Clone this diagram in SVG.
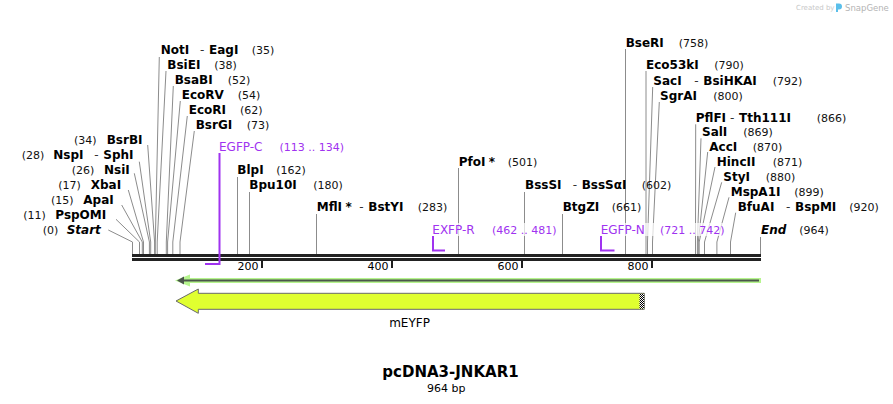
<svg xmlns="http://www.w3.org/2000/svg" width="893" height="404" viewBox="0 0 893 404">
<style>
text{font-family:"DejaVu Sans",Verdana,sans-serif;fill:#000}
.n{font-weight:bold;font-size:12px}
.i{font-weight:bold;font-style:italic;font-size:12px}
.h{font-size:12px;fill:#333}
.c{font-size:11px;fill:#111}
.p{font-size:12px;fill:#a033f0}
.pc{font-size:11px;fill:#a033f0}
.ln{stroke:#8c8c8c;stroke-width:1;fill:none}
.pr{stroke:#a033f0;stroke-width:2;fill:none}
.tk{fill:#1e1e1e}
.t{font-size:11px;fill:#000}
</style>
<defs>
<pattern id="dots" width="2" height="2" patternUnits="userSpaceOnUse">
<rect width="2" height="2" fill="#fff"/>
<rect width="1" height="1" fill="#000"/>
<rect x="1" y="1" width="1" height="1" fill="#000"/>
</pattern>
</defs>
<rect width="893" height="404" fill="#fff"/>

<g id="watermark">
<text x="796" y="10" style="font-size:7px;fill:#c8c8c8">Created by</text>
<path d="M836,3.5 h3 a3,3 0 0 1 0,6 h-1 v2.5 h-2 z" fill="#5bbfea"/>
<text x="845" y="10.5" style="font-size:8.5px;fill:#b4b4b4">SnapGene</text>
</g>

<g id="connectors">
<polyline class="ln" points="159.3,57 155.3,242 155.3,254"/>
<polyline class="ln" points="166,71 157.2,242 157.2,254"/>
<polyline class="ln" points="173.3,86 166.3,242 166.3,254"/>
<polyline class="ln" points="180.3,101 167.6,242 167.6,254"/>
<polyline class="ln" points="187.3,116 172.8,242 172.8,254"/>
<polyline class="ln" points="194.3,131 180,242 180,254"/>
<polyline class="ln" points="147.7,145 154.6,242 154.6,254"/>
<polyline class="ln" points="139.3,161.7 150.7,242 150.7,254"/>
<polyline class="ln" points="134.3,173.3 149.4,242 149.4,254"/>
<polyline class="ln" points="128.3,190 143.5,242 143.5,254"/>
<polyline class="ln" points="121.7,205 142.3,242 142.3,254"/>
<polyline class="ln" points="116,219.3 139.5,242 139.5,254"/>
<polyline class="ln" points="108.3,230 132.5,242 132.5,254"/>
<line class="ln" x1="237.5" y1="177" x2="237.5" y2="254"/>
<line class="ln" x1="249.5" y1="192" x2="249.5" y2="254"/>
<line class="ln" x1="316.5" y1="214" x2="316.5" y2="254"/>
<line class="ln" x1="458.5" y1="168" x2="458.5" y2="254"/>
<line class="ln" x1="524.5" y1="192" x2="524.5" y2="254"/>
<line class="ln" x1="562.5" y1="214" x2="562.5" y2="254"/>
<line class="ln" x1="625.5" y1="49" x2="625.5" y2="254"/>
<line class="ln" x1="646" y1="71" x2="646" y2="254"/>
<line class="ln" x1="760.5" y1="237" x2="760.5" y2="254"/>
<polyline class="ln" points="652.7,87 647.5,242 647.5,254"/>
<polyline class="ln" points="659.3,102 652.5,242 652.5,254"/>
<polyline class="ln" points="695.7,124.3 695.5,242 695.5,254"/>
<polyline class="ln" points="701,138.3 697.4,242 697.4,254"/>
<polyline class="ln" points="707.7,152 698.3,242 698.3,254"/>
<polyline class="ln" points="715,167 699.2,242 699.2,254"/>
<polyline class="ln" points="721.7,182.3 704.5,242 704.5,254"/>
<polyline class="ln" points="729,197.3 716.9,242 716.9,254"/>
<polyline class="ln" points="735.7,212.7 730.5,242 730.5,254"/>
</g>

<g id="backbone">
<rect x="132" y="254" width="629" height="3" fill="#222"/>
<rect x="132" y="258" width="629" height="3" fill="#222"/>
<rect class="tk" x="261" y="260" width="2" height="8"/>
<rect class="tk" x="391" y="260" width="2" height="8"/>
<rect class="tk" x="521" y="260" width="2" height="8"/>
<rect class="tk" x="651" y="260" width="2" height="8"/>
<text class="t" x="258.5" y="270" text-anchor="end">200</text>
<text class="t" x="388.5" y="270" text-anchor="end">400</text>
<text class="t" x="518.5" y="270" text-anchor="end">600</text>
<text class="t" x="648.5" y="270" text-anchor="end">800</text>
</g>

<g id="primer-EGFP-C">
<path class="pr" d="M219.5,153 V264 H205"/>
<text y="151"><tspan class="p" x="219">EGFP-C</tspan><tspan class="pc" x="279.5">(113 .. 134)</tspan></text>
</g>
<g id="primer-EXFP-R">
<rect x="431" y="223" width="128" height="13" fill="#fff" fill-opacity="0.7"/>
<path class="pr" d="M433,236 V250.5 H445"/>
<text y="234"><tspan class="p" x="432.3">EXFP-R</tspan><tspan class="pc" x="492">(462 .. 481)</tspan></text>
</g>
<g id="primer-EGFP-N">
<rect x="599" y="223" width="129" height="13" fill="#fff" fill-opacity="0.7"/>
<path class="pr" d="M601,236 V250.5 H614.5"/>
<text y="234"><tspan class="p" x="600.7">EGFP-N</tspan><tspan class="pc" x="660">(721 .. 742)</tspan></text>
</g>

<g id="NotI"><text y="54"><tspan class="n" x="160.7">NotI</tspan><tspan class="h" x="200">-</tspan><tspan class="n" x="209">EagI</tspan><tspan class="c" x="251.7">(35)</tspan></text></g>
<g id="BsiEI"><text y="69"><tspan class="n" x="167.3">BsiEI</tspan><tspan class="c" x="214.3">(38)</tspan></text></g>
<g id="BsaBI"><text y="84"><tspan class="n" x="174.7">BsaBI</tspan><tspan class="c" x="227.7">(52)</tspan></text></g>
<g id="EcoRV"><text y="99"><tspan class="n" x="181.7">EcoRV</tspan><tspan class="c" x="237.7">(54)</tspan></text></g>
<g id="EcoRI"><text y="114"><tspan class="n" x="188.7">EcoRI</tspan><tspan class="c" x="240">(62)</tspan></text></g>
<g id="BsrGI"><text y="129"><tspan class="n" x="195.7">BsrGI</tspan><tspan class="c" x="246.7">(73)</tspan></text></g>

<g id="BsrBI"><text y="144"><tspan class="c" x="74">(34)</tspan><tspan class="n" x="106.7">BsrBI</tspan></text></g>
<g id="NspI"><text y="159"><tspan class="c" x="21.7">(28)</tspan><tspan class="n" x="53.3">NspI</tspan><tspan class="h" x="94.3">-</tspan><tspan class="n" x="103.3">SphI</tspan></text></g>
<g id="NsiI"><text y="174"><tspan class="c" x="71.7">(26)</tspan><tspan class="n" x="104">NsiI</tspan></text></g>
<g id="XbaI"><text y="189"><tspan class="c" x="58.3">(17)</tspan><tspan class="n" x="90.7">XbaI</tspan></text></g>
<g id="ApaI"><text y="204"><tspan class="c" x="51">(15)</tspan><tspan class="n" x="83.3">ApaI</tspan></text></g>
<g id="PspOMI"><text y="219"><tspan class="c" x="23.3">(11)</tspan><tspan class="n" x="55.3">PspOMI</tspan></text></g>
<g id="Start"><text y="234"><tspan class="c" x="42.7">(0)</tspan><tspan class="i" x="66.7">Start</tspan></text></g>

<g id="BlpI"><text y="174"><tspan class="n" x="237.3">BlpI</tspan><tspan class="c" x="276.3">(162)</tspan></text></g>
<g id="Bpu10I"><text y="189"><tspan class="n" x="249.3">Bpu10I</tspan><tspan class="c" x="313.3">(180)</tspan></text></g>
<g id="MflI"><text y="211"><tspan class="n" x="316.7">MflI</tspan><tspan class="n" x="345.5">*</tspan><tspan class="h" x="359.3">-</tspan><tspan class="n" x="368.3">BstYI</tspan><tspan class="c" x="417.7">(283)</tspan></text></g>
<g id="PfoI"><text y="166"><tspan class="n" x="458.7">PfoI</tspan><tspan class="n" x="488.8">*</tspan><tspan class="c" x="507.7">(501)</tspan></text></g>
<g id="BssSI"><text y="189"><tspan class="n" x="525">BssSI</tspan><tspan class="h" x="572.7">-</tspan><tspan class="n" x="581.7">BssSαI</tspan><tspan class="c" x="641.7">(602)</tspan></text></g>
<g id="BtgZI"><text y="211"><tspan class="n" x="562.7">BtgZI</tspan><tspan class="c" x="611.7">(661)</tspan></text></g>
<g id="End"><text y="234"><tspan class="i" x="761">End</tspan><tspan class="c" x="799.3">(964)</tspan></text></g>

<g id="BseRI"><text y="46.5"><tspan class="n" x="625.7">BseRI</tspan><tspan class="c" x="678.7">(758)</tspan></text></g>
<g id="Eco53kI"><text y="69"><tspan class="n" x="646">Eco53kI</tspan><tspan class="c" x="714.3">(790)</tspan></text></g>
<g id="SacI"><text y="84.5"><tspan class="n" x="653.3">SacI</tspan><tspan class="h" x="694.3">-</tspan><tspan class="n" x="703.3">BsiHKAI</tspan><tspan class="c" x="772.7">(792)</tspan></text></g>
<g id="SgrAI"><text y="99.5"><tspan class="n" x="660">SgrAI</tspan><tspan class="c" x="713.3">(800)</tspan></text></g>
<g id="PflFI"><text y="121.5"><tspan class="n" x="695.7">PflFI</tspan><tspan class="h" x="730">-</tspan><tspan class="n" x="739">Tth111I</tspan><tspan class="c" x="816.7">(866)</tspan></text></g>
<g id="SalI"><text y="136"><tspan class="n" x="702">SalI</tspan><tspan class="c" x="743.3">(869)</tspan></text></g>
<g id="AccI"><text y="151"><tspan class="n" x="709.3">AccI</tspan><tspan class="c" x="752.7">(870)</tspan></text></g>
<g id="HincII"><text y="166"><tspan class="n" x="716.7">HincII</tspan><tspan class="c" x="772.7">(871)</tspan></text></g>
<g id="StyI"><text y="181"><tspan class="n" x="723.3">StyI</tspan><tspan class="c" x="765.7">(880)</tspan></text></g>
<g id="MspA1I"><text y="196"><tspan class="n" x="730.7">MspA1I</tspan><tspan class="c" x="794.3">(899)</tspan></text></g>
<g id="BfuAI"><text y="211"><tspan class="n" x="737.7">BfuAI</tspan><tspan class="h" x="786">-</tspan><tspan class="n" x="795">BspMI</tspan><tspan class="c" x="849.3">(920)</tspan></text></g>

<g id="orf">
<rect x="186" y="278" width="575" height="5" fill="#b6f58e"/>
<path d="M175,280.5 L190,274.5 L190,286.5 Z" fill="#b6f58e"/>
<line x1="182" y1="280.5" x2="759" y2="280.5" stroke="#4a554a" stroke-width="2"/>
<path d="M177,280.5 L184,276.5 L184,284.5 Z" fill="#4a554a"/>
</g>

<g id="mEYFP">
<path d="M176,301 L198.3,289 L198.3,293.3 L644.3,293.3 L644.3,309.3 L198.3,309.3 L198.3,313.3 Z" fill="#e0ff30" stroke="#6a6a6a" stroke-width="1"/>
<rect x="639.5" y="293.8" width="4.5" height="15" fill="url(#dots)"/>
<text x="409.5" y="327" text-anchor="middle" style="font-size:12px">mEYFP</text>
</g>

<g id="title">
<text x="450.5" y="377" text-anchor="middle" style="font-size:15px;font-weight:bold">pcDNA3-JNKAR1</text>
<text x="446.2" y="392" text-anchor="middle" style="font-size:11px">964 bp</text>
</g>
</svg>
